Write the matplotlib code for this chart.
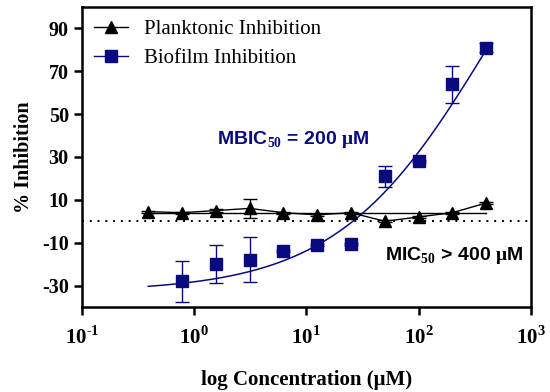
import numpy as np
import matplotlib
matplotlib.use('Agg')
import matplotlib.pyplot as plt
from matplotlib.lines import Line2D

matplotlib.rcParams['font.family'] = 'Liberation Serif'
matplotlib.rcParams['mathtext.fontset'] = 'custom'
matplotlib.rcParams['mathtext.rm'] = 'Liberation Serif:bold'
matplotlib.rcParams['mathtext.bf'] = 'Liberation Serif:bold'
matplotlib.rcParams['axes.unicode_minus'] = False

# concentrations (uM)
conc = [0.39, 0.78, 1.56, 3.125, 6.25, 12.5, 25, 50, 100, 200, 400]
plank = [4.5, 4, 5, 6, 4, 3, 4, 0, 2, 4, 8.5]
plank_err = [0.5, 0.5, 0.5, 4.5, 0.5, 0.5, 0.5, 0.5, 0.5, 0.5, 0.5]
plank_fit = 4

bio_conc = [0.78, 1.56, 3.125, 6.25, 12.5, 25, 50, 100, 200, 400]
bio = [-28, -20, -18, -14, -11, -10.5, 21, 28, 64, 81]
bio_err = [9.5, 8.7, 10.5, 0.5, 0.5, 0.5, 4.8, 0.5, 8.7, 2.2]

xtick_vals = [0.1, 1, 10, 100, 1000]
xtick_labels = [r'$10^{\text{-}1}$', r'$10^{0}$', r'$10^{1}$', r'$10^{2}$', r'$10^{3}$']

# dose-response fit parameters (biofilm)
fit_bottom, fit_top, fit_ec50, fit_hill = -33, 200, 440, 0.637

navy = '#0a0a80'

fig = plt.figure(figsize=(5.5, 3.92), dpi=100)
ax = fig.add_axes([0.149, 0.217, 0.816, 0.765])

xf = np.logspace(np.log10(0.39), np.log10(400), 200)
yf = fit_bottom + (fit_top - fit_bottom) / (1 + (fit_ec50 / xf) ** fit_hill)

ax.axhline(0, color='black', ls=(0, (1, 3)), lw=1.4)

ax.plot([conc[0], conc[-1]], [plank_fit, plank_fit], color='black', lw=1)
ax.errorbar(conc, plank, yerr=plank_err, fmt='^-', color='black', ms=8, lw=1,
            capsize=5, capthick=1, elinewidth=1)

ax.plot(xf, yf, color=navy, lw=1.1)
ax.errorbar(bio_conc, bio, yerr=bio_err, fmt='s', color=navy, ms=9,
            capsize=5, capthick=1, elinewidth=1)

handles = [Line2D([], [], color='black', marker='^', ms=8, lw=1),
           Line2D([], [], color=navy, marker='s', ms=8, lw=1)]
ax.legend(handles, ['Planktonic Inhibition', 'Biofilm Inhibition'], loc='upper left',
          frameon=False, fontsize=15, handlelength=1.6, handletextpad=0.8,
          borderaxespad=0.2, labelspacing=0.45)

ax.text(0.30, 0.557, r'MBIC$_{\mathbf{50}}$ = 200 $\mathbf{\mu}$M', transform=ax.transAxes,
        color=navy, fontsize=14, fontweight='bold', family='Liberation Sans', va='center')
ax.text(0.675, 0.173, r'MIC$_{\mathbf{50}}$ > 400 $\mathbf{\mu}$M', transform=ax.transAxes,
        color='black', fontsize=14, fontweight='bold', family='Liberation Sans', va='center')

ax.set_xscale('log')
ax.set_xlim(0.1, 1000)
ax.set_ylim(-40, 100)
ax.set_yticks([-30, -10, 10, 30, 50, 70, 90])
ax.xaxis.set_minor_locator(matplotlib.ticker.NullLocator())
ax.set_xticks(xtick_vals)
ax.set_xticklabels(xtick_labels)

ax.set_xlabel('log Concentration (μM)', fontsize=15, fontweight='bold', labelpad=15)
ax.set_ylabel('% Inhibition', fontsize=14.5, fontweight='bold', labelpad=6)

for s in ax.spines.values():
    s.set_linewidth(1.8)
ax.tick_params(width=1.8, length=6, labelsize=15)
ax.tick_params(axis='x', pad=8)
ax.tick_params(axis='y', labelsize=14.5)
for t in ax.get_xticklabels() + ax.get_yticklabels():
    t.set_fontweight('bold')

fig.savefig('out.png', dpi=100)
